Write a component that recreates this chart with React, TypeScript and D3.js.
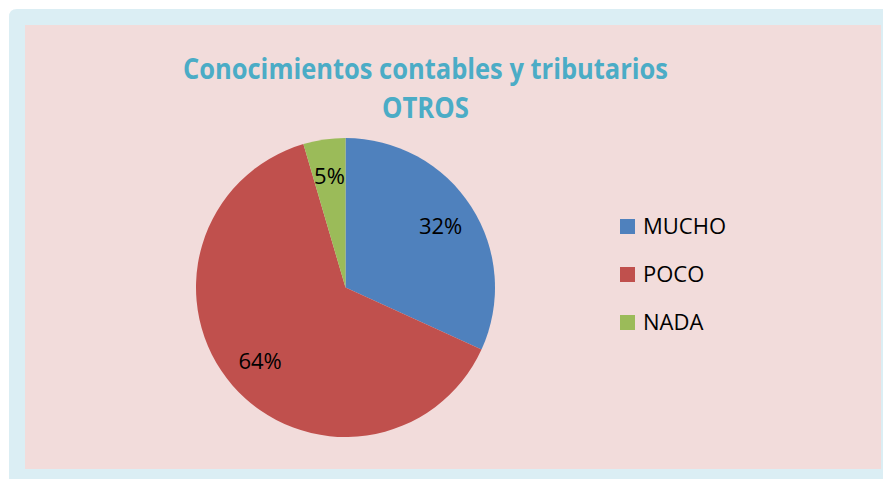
import React from "react";
import * as d3 from "d3";

const categories = ["MUCHO", "POCO", "NADA"];
const values = [7, 14, 1];
const colors = ["#4f81bd", "#c0504d", "#9bbb59"];
const titleLines = ["Conocimientos contables y tributarios", "OTROS"];

const W = 883;
const H = 479;
const FONT = "'Open Sans', 'Liberation Sans', Arial, sans-serif";

export default function App() {
  const cx = 345.5;
  const cy = 287.5;
  const r = 149.5;
  const total = d3.sum(values);
  const pie = d3.pie<number>().sort(null).value((d) => d)(values);
  const arc = d3.arc<d3.PieArcDatum<number>>().innerRadius(0).outerRadius(r);
  const labelArc = d3.arc<d3.PieArcDatum<number>>().innerRadius(113).outerRadius(113);
  const fmt = d3.format(".0%");
  const legendY = d3.scalePoint<string>().domain(categories).range([226.5, 322.5]);

  return (
    <svg width={W} height={H} style={{ position: "absolute", left: 0, top: 0 }}>
      <rect x={0} y={0} width={W} height={H} fill="#ffffff" />
      <path d={`M9,${H} L9,17 Q9,9 17,9 L${W},9 L${W},${H} Z`} fill="#dbeef4" />
      <rect x={25} y={25} width={856} height={444} fill="#f2dcdb" />
      <g fontFamily={FONT} fontWeight="bold" fill="#4bacc6" fontSize={29} textAnchor="middle">
        <text x={425.5} y={79} textLength={485} lengthAdjust="spacingAndGlyphs">{titleLines[0]}</text>
        <text x={425.5} y={118} textLength={87} lengthAdjust="spacingAndGlyphs">{titleLines[1]}</text>
      </g>
      <g transform={`translate(${cx},${cy})`}>
        {pie.map((d, i) => (
          <path key={i} d={arc(d) || ""} fill={colors[i]} />
        ))}
        {pie.map((d, i) => {
          const [x, y] = labelArc.centroid(d);
          return (
            <text
              key={"l" + i}
              x={x}
              y={y}
              dy="0.36em"
              textAnchor="middle"
              fontFamily={FONT}
              fontSize={22}
              fill="#000"
            >
              {fmt(d.data / total)}
            </text>
          );
        })}
      </g>
      <g fontFamily={FONT} fontSize={22} fill="#000">
        {categories.map((c, i) => {
          const y = legendY(c) as number;
          return (
            <g key={c}>
              <rect x={620} y={y - 7.5} width={15} height={15} fill={colors[i]} />
              <text x={643} y={y + 7.8}>{c}</text>
            </g>
          );
        })}
      </g>
    </svg>
  );
}
